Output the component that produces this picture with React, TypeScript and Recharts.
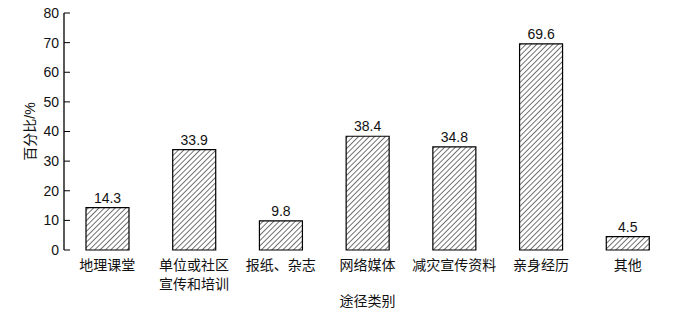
import React from 'react';
import { BarChart, Bar, XAxis, YAxis, LabelList } from 'recharts';

const categories = ['地理课堂', '单位或社区\n宣传和培训', '报纸、杂志', '网络媒体', '减灾宣传资料', '亲身经历', '其他'];
const percents = [14.3, 33.9, 9.8, 38.4, 34.8, 69.6, 4.5];
const yTicks = [0, 10, 20, 30, 40, 50, 60, 70, 80];
const boundaryTicks = [0, 1, 2, 3, 4, 5, 6, 7];

const FONT = '"Liberation Sans", "Noto Sans CJK SC", sans-serif';

const data = categories.map((name, i) => ({ name, value: percents[i] }));

const CategoryTick = ({ x, y, payload }: any) => {
    const lines = String(payload.value).split('\n');
    return (
        <text x={x} y={y} textAnchor="middle" fontSize={14} fill="#111" fontFamily={FONT}>
            {lines.map((line, i) => (
                <tspan key={i} x={x} dy={i === 0 ? 20 : 19}>{line}</tspan>
            ))}
        </text>
    );
};

const App = () => {
    return (
        <div style={{ position: 'absolute', left: 0, top: 0, width: 700, height: 314, background: '#fff' }}>
            <BarChart width={700} height={314} data={data} margin={{ top: 13, right: 29, left: 0, bottom: 0 }} style={{ fontFamily: FONT }}>
                <defs>
                    <pattern id="hatch" patternUnits="userSpaceOnUse" width={3.8} height={3.8} patternTransform="rotate(45)">
                        <rect width={3.8} height={3.8} fill="#fff" />
                        <line x1={0} y1={0} x2={0} y2={3.8} stroke="#000" strokeWidth={1.1} />
                    </pattern>
                </defs>
                {/* boundary ticks between the categories, pointing up into the plot */}
                <XAxis
                    xAxisId="edges"
                    type="number"
                    domain={[0, 7]}
                    ticks={boundaryTicks}
                    height={0}
                    mirror
                    tickSize={4}
                    tick={false}
                    stroke="#000"
                    axisLine={{ stroke: '#000', strokeWidth: 1.3 }}
                    tickLine={{ stroke: '#000' }}
                />
                <XAxis
                    dataKey="name"
                    height={64}
                    axisLine={false}
                    tickLine={false}
                    tickSize={0}
                    tickMargin={0}
                    interval={0}
                    tick={<CategoryTick />}
                    label={{ value: '途径类别', position: 'insideBottom', offset: 8, fontSize: 14, fill: '#111', fontFamily: FONT }}
                />
                <YAxis
                    width={64}
                    domain={[0, 80]}
                    ticks={yTicks}
                    interval={0}
                    tickSize={-6}
                    tickMargin={11}
                    stroke="#000"
                    axisLine={{ stroke: '#000', strokeWidth: 1.3 }}
                    tick={{ fontSize: 14, fill: '#111', fontFamily: FONT }}
                    label={{ value: '百分比/%', angle: -90, position: 'center', dx: -2, fontSize: 14, fill: '#111', fontFamily: FONT }}
                />
                <Bar dataKey="value" barSize={43} fill="url(#hatch)" stroke="#000" strokeWidth={1.2} isAnimationActive={false}>
                    <LabelList dataKey="value" position="top" offset={5} fontSize={14} fill="#111" fontFamily={FONT} />
                </Bar>
            </BarChart>
        </div>
    );
};

export default App;
